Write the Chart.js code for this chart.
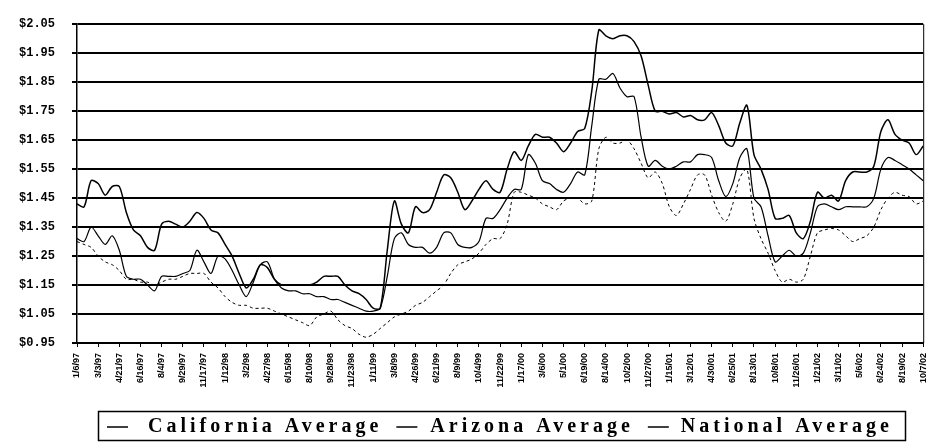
<!DOCTYPE html>
<html>
<head>
<meta charset="utf-8">
<script src="https://cdn.jsdelivr.net/npm/chart.js@4"></script>
<style>
  html, body { margin: 0; padding: 0; background: #fff; }
  canvas { display: block; }
</style>
</head>
<body>
<canvas id="gas-chart" width="940" height="442"></canvas>
<script>
// tick labels on the bottom axis (one per tick)
const dateLabels = [
    '1/6/97', '3/3/97', '4/21/97', '6/16/97', '8/4/97', '9/29/97', '11/17/97',
    '1/12/98', '3/2/98', '4/27/98', '6/15/98', '8/10/98', '9/28/98', '11/23/98',
    '1/11/99', '3/8/99', '4/26/99', '6/21/99', '8/9/99', '10/4/99', '11/22/99',
    '1/17/00', '3/6/00', '5/1/00', '6/19/00', '8/14/00', '10/2/00', '11/27/00',
    '1/15/01', '3/12/01', '4/30/01', '6/25/01', '8/13/01', '10/8/01', '11/26/01',
    '1/21/02', '3/11/02', '5/6/02', '6/24/02', '8/19/02', '10/7/02'
];

// price readings, 3 per tick interval
const SAMPLES_PER_LABEL = 3;

const californiaAvg = [
    1.43, 1.42, 1.51, 1.50, 1.46, 1.49, 1.49, 1.40, 1.34, 1.32,
    1.28, 1.27, 1.36, 1.37, 1.36, 1.35, 1.37, 1.40, 1.38, 1.34,
    1.33, 1.29, 1.25, 1.19, 1.14, 1.17, 1.22, 1.21, 1.17, 1.15,
    1.15, 1.15, 1.15, 1.15, 1.16, 1.18, 1.18, 1.18, 1.15, 1.13,
    1.12, 1.10, 1.07, 1.07, 1.27, 1.44, 1.36, 1.33, 1.42, 1.40,
    1.41, 1.47, 1.53, 1.52, 1.47, 1.41, 1.44, 1.48, 1.51, 1.48,
    1.47, 1.55, 1.61, 1.58, 1.63, 1.67, 1.66, 1.66, 1.64, 1.61,
    1.64, 1.68, 1.69, 1.82, 2.03, 2.01, 2.00, 2.01, 2.01, 1.99,
    1.94, 1.84, 1.75, 1.75, 1.74, 1.745, 1.73, 1.735, 1.72, 1.72,
    1.745, 1.70, 1.64, 1.63, 1.71, 1.77, 1.60, 1.55, 1.48, 1.38,
    1.38, 1.39, 1.33, 1.31, 1.37, 1.47, 1.45, 1.46, 1.44, 1.51,
    1.54, 1.54, 1.54, 1.56, 1.68, 1.72, 1.67, 1.65, 1.64, 1.60,
    1.63
];

const arizonaAvg = [
    1.31, 1.30, 1.35, 1.32, 1.29, 1.32, 1.27, 1.18, 1.17, 1.17,
    1.15, 1.13, 1.18, 1.18, 1.18, 1.19, 1.20, 1.27, 1.23, 1.19,
    1.25, 1.24, 1.20, 1.15, 1.11, 1.16, 1.22, 1.23, 1.17, 1.14,
    1.13, 1.13, 1.12, 1.12, 1.11, 1.11, 1.10, 1.10, 1.09, 1.08,
    1.07, 1.06, 1.06, 1.07, 1.18, 1.31, 1.33, 1.29, 1.28, 1.28,
    1.26, 1.28, 1.33, 1.33, 1.29, 1.28, 1.28, 1.30, 1.38, 1.38,
    1.41, 1.45, 1.48, 1.48, 1.60, 1.57, 1.51, 1.50, 1.48, 1.47,
    1.50, 1.54, 1.53, 1.70, 1.86, 1.86, 1.88, 1.83, 1.80, 1.80,
    1.66, 1.56, 1.58, 1.56, 1.55, 1.56, 1.575, 1.575, 1.60, 1.60,
    1.59, 1.51, 1.455, 1.50, 1.59, 1.62, 1.45, 1.42, 1.32, 1.23,
    1.25, 1.27, 1.25, 1.26, 1.33, 1.42, 1.43, 1.42, 1.41, 1.42,
    1.42, 1.42, 1.42, 1.45, 1.55, 1.59, 1.58, 1.565, 1.55, 1.53,
    1.51
];

const nationalAvg = [
    1.30, 1.29, 1.28, 1.25, 1.23, 1.22, 1.20, 1.17, 1.17, 1.16,
    1.16, 1.15, 1.16, 1.17, 1.17, 1.18, 1.19, 1.19, 1.19, 1.16,
    1.14, 1.11, 1.09, 1.08, 1.08, 1.07, 1.07, 1.07, 1.06, 1.05,
    1.04, 1.03, 1.02, 1.01, 1.04, 1.05, 1.06, 1.03, 1.01, 1.00,
    0.98, 0.97, 0.98, 1.00, 1.02, 1.04, 1.05, 1.06, 1.08, 1.09,
    1.11, 1.13, 1.15, 1.19, 1.22, 1.23, 1.24, 1.26, 1.29, 1.31,
    1.31, 1.36, 1.47, 1.47, 1.46, 1.45, 1.43, 1.42, 1.41, 1.44,
    1.45, 1.45, 1.43, 1.44, 1.62, 1.66, 1.64, 1.64, 1.65, 1.62,
    1.57, 1.52, 1.54, 1.50, 1.42, 1.39, 1.43, 1.48, 1.53, 1.53,
    1.46, 1.40, 1.37, 1.43, 1.52, 1.55, 1.38, 1.31, 1.26, 1.20,
    1.16, 1.17, 1.16, 1.17, 1.25, 1.33, 1.34, 1.345, 1.34, 1.32,
    1.30, 1.31, 1.32, 1.35, 1.41, 1.45, 1.47, 1.46, 1.455, 1.43,
    1.44
];

const toPoints = (values) => values.map((v, i) => ({x: i / SAMPLES_PER_LABEL, y: v}));

// рамка справа и легенда в рамке внизу
const framePlugin = {
    id: 'frame',
    afterDraw(chart) {
        const ctx = chart.ctx;
        const area = chart.chartArea;
        ctx.save();
        ctx.strokeStyle = '#000';
        ctx.lineWidth = 1;
        ctx.beginPath();
        ctx.moveTo(area.right + 0.5, area.top);
        ctx.lineTo(area.right + 0.5, area.bottom);
        ctx.stroke();

        // legend box
        ctx.lineWidth = 1.5;
        ctx.strokeRect(98.5, 411.5, 807, 29);

        ctx.font = 'bold 20px "Liberation Serif", "Times New Roman", serif';
        ctx.letterSpacing = '4px';
        ctx.fillStyle = '#000';
        ctx.textBaseline = 'middle';
        const y = 427;
        const gaps = [20, 13, 12];
        let x = 107;
        chart.data.datasets.forEach((ds, i) => {
            ctx.beginPath();
            ctx.lineWidth = 1.5;
            ctx.setLineDash([]);
            ctx.moveTo(x, y);
            ctx.lineTo(x + 21, y);
            ctx.stroke();
            x += 21 + gaps[i];
            ctx.fillText(ds.label, x, y);
            x += ctx.measureText(ds.label).width + 14;
        });
        ctx.restore();
    }
};

new Chart(document.getElementById('gas-chart'), {
    type: 'line',
    data: {
        datasets: [{
            label: 'California Average',
            data: toPoints(californiaAvg),
            borderColor: '#000',
            borderWidth: 1.5,
            pointRadius: 0,
            tension: 0.3
        }, {
            label: 'Arizona Average',
            data: toPoints(arizonaAvg),
            borderColor: '#000',
            borderWidth: 1.2,
            pointRadius: 0,
            tension: 0.3
        }, {
            label: 'National Average',
            data: toPoints(nationalAvg),
            borderColor: '#000',
            borderWidth: 1,
            borderDash: [3, 3],
            pointRadius: 0,
            tension: 0.3
        }]
    },
    options: {
        responsive: false,
        animation: false,
        devicePixelRatio: 1,
        layout: {padding: {left: 4, right: 5, top: 9, bottom: 54}},
        plugins: {
            legend: {display: false},
            tooltip: {enabled: false}
        },
        scales: {
            x: {
                type: 'linear',
                min: 0,
                max: dateLabels.length - 1,
                afterFit: (scale) => { scale.height = 45; },
                grid: {display: true, drawOnChartArea: false, drawTicks: true, tickLength: 4, color: '#000'},
                border: {display: true, color: '#000', width: 2},
                ticks: {
                    stepSize: 1,
                    autoSkip: false,
                    maxRotation: 90,
                    minRotation: 90,
                    padding: 6,
                    color: '#000',
                    font: {family: '"Liberation Sans", Arial, sans-serif', size: 9, weight: 'bold'},
                    callback: (v) => dateLabels[v] || ''
                }
            },
            y: {
                min: 0.95,
                max: 2.05,
                afterFit: (scale) => { scale.width = 73; },
                grid: {color: '#000', lineWidth: 2, tickLength: 5},
                border: {display: true, color: '#000', width: 1.5},
                ticks: {
                    stepSize: 0.1,
                    padding: 17,
                    color: '#000',
                    font: {family: '"Liberation Mono", monospace', size: 12, weight: 'bold'},
                    callback: (v) => '$' + v.toFixed(2)
                }
            }
        }
    },
    plugins: [framePlugin]
});
</script>
</body>
</html>
